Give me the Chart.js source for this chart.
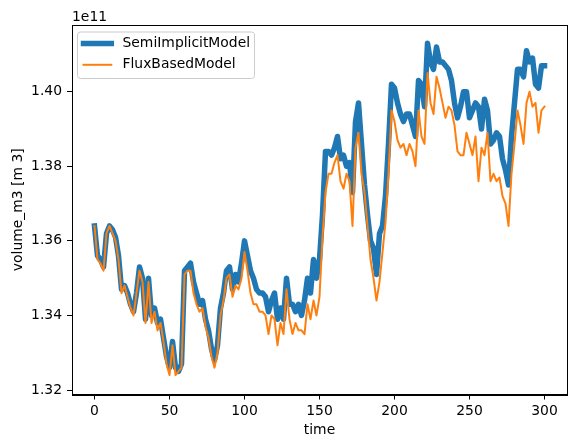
<!DOCTYPE html>
<html>
<head>
<meta charset="utf-8">
<script src="https://cdn.jsdelivr.net/npm/chart.js@4.4.1/dist/chart.umd.min.js"></script>
<style>
  html, body { margin: 0; padding: 0; background: #fff; }
  #wrap { width: 576px; height: 448px; }
</style>
</head>
<body>
<div id="wrap"><canvas id="chart" width="576" height="448"></canvas></div>
<script>
// values in units of 1e11 m^3, read every 2 time steps
const time = [
  0, 2, 4, 6, 8, 10, 12, 14, 16, 18,
  20, 22, 24, 26, 28, 30, 32, 34, 36, 38,
  40, 42, 44, 46, 48, 50, 52, 54, 56, 58,
  60, 62, 64, 66, 68, 70, 72, 74, 76, 78,
  80, 82, 84, 86, 88, 90, 92, 94, 96, 98,
  100, 102, 104, 106, 108, 110, 112, 114, 116, 118,
  120, 122, 124, 126, 128, 130, 132, 134, 136, 138,
  140, 142, 144, 146, 148, 150, 152, 154, 156, 158,
  160, 162, 164, 166, 168, 170, 172, 174, 176, 178,
  180, 182, 184, 186, 188, 190, 192, 194, 196, 198,
  200, 202, 204, 206, 208, 210, 212, 214, 216, 218,
  220, 222, 224, 226, 228, 230, 232, 234, 236, 238,
  240, 242, 244, 246, 248, 250, 252, 254, 256, 258,
  260, 262, 264, 266, 268, 270, 272, 274, 276, 278,
  280, 282, 284, 286, 288, 290, 292, 294, 296, 298,
  300
];

const semiImplicit = [
  1.364, 1.356, 1.355, 1.353, 1.362, 1.364, 1.363, 1.361, 1.356, 1.347,
  1.348, 1.346, 1.343, 1.341, 1.346, 1.353, 1.350, 1.339, 1.350, 1.340,
  1.342, 1.338, 1.339, 1.334, 1.329, 1.326, 1.333, 1.326, 1.325, 1.327,
  1.352, 1.353, 1.354, 1.349, 1.346, 1.343, 1.344, 1.339, 1.336, 1.331,
  1.328, 1.332, 1.342, 1.346, 1.352, 1.353, 1.347, 1.351, 1.349, 1.354,
  1.360, 1.356, 1.352, 1.350, 1.347, 1.346, 1.346, 1.345, 1.341, 1.344,
  1.346, 1.339, 1.342, 1.339, 1.350, 1.343, 1.343, 1.341, 1.343, 1.340,
  1.344, 1.350, 1.346, 1.355, 1.350, 1.355, 1.367, 1.384, 1.384, 1.383,
  1.385, 1.388, 1.382, 1.383, 1.380, 1.381, 1.373, 1.392, 1.397, 1.386,
  1.375, 1.367, 1.360, 1.358, 1.351, 1.362, 1.364, 1.372, 1.386, 1.402,
  1.401, 1.397, 1.394, 1.392, 1.394, 1.394, 1.391, 1.388, 1.403, 1.402,
  1.396, 1.413, 1.408, 1.406, 1.412, 1.408, 1.408, 1.407, 1.406, 1.403,
  1.397, 1.393, 1.396, 1.400, 1.400, 1.393, 1.395, 1.397, 1.396, 1.390,
  1.398, 1.395, 1.386, 1.387, 1.389, 1.388, 1.382, 1.379, 1.375, 1.388,
  1.397, 1.406, 1.406, 1.404, 1.411, 1.408, 1.409, 1.402, 1.401, 1.407,
  1.407
];

const fluxBased = [
  1.364, 1.355, 1.354, 1.352, 1.362, 1.364, 1.362, 1.360, 1.355, 1.346,
  1.348, 1.345, 1.342, 1.340, 1.346, 1.352, 1.349, 1.338, 1.349, 1.338,
  1.341, 1.336, 1.338, 1.333, 1.327, 1.324, 1.332, 1.324, 1.325, 1.326,
  1.351, 1.352, 1.352, 1.346, 1.343, 1.341, 1.342, 1.337, 1.334, 1.329,
  1.326, 1.330, 1.340, 1.344, 1.350, 1.351, 1.345, 1.348, 1.347, 1.350,
  1.357, 1.352, 1.346, 1.343, 1.343, 1.341, 1.341, 1.340, 1.335, 1.340,
  1.339, 1.332, 1.338, 1.335, 1.347, 1.339, 1.335, 1.338, 1.336, 1.336,
  1.335, 1.343, 1.339, 1.344, 1.340, 1.345, 1.361, 1.373, 1.378, 1.378,
  1.381, 1.383, 1.376, 1.374, 1.378, 1.376, 1.364, 1.385, 1.389, 1.378,
  1.373, 1.364, 1.355, 1.350, 1.344, 1.349, 1.357, 1.365, 1.378, 1.395,
  1.392, 1.387, 1.385, 1.386, 1.383, 1.386, 1.384, 1.380, 1.395, 1.388,
  1.386, 1.405, 1.397, 1.394, 1.404, 1.401, 1.397, 1.393, 1.396, 1.395,
  1.391, 1.384, 1.383, 1.383, 1.389, 1.386, 1.383, 1.388, 1.376, 1.385,
  1.383, 1.389, 1.376, 1.378, 1.376, 1.377, 1.372, 1.370, 1.364, 1.378,
  1.386, 1.395, 1.391, 1.386, 1.397, 1.400, 1.396, 1.397, 1.389, 1.395,
  1.396
];

const seriesNames = ['SemiImplicitModel', 'FluxBasedModel'];
const xTicks = [0, 50, 100, 150, 200, 250, 300];
const yTicks = [1.32, 1.34, 1.36, 1.38, 1.40];

const FONT = 'DejaVu Sans';
const FS = 13.9;

Chart.defaults.font.family = FONT;
Chart.defaults.font.size = FS;
Chart.defaults.color = '#000';

const toPoints = ys => ys.map((y, i) => ({x: time[i], y: y}));

// box around the plot, the "1e11" offset text and a matplotlib-like legend
const framePlugin = {
  id: 'frame',
  afterDatasetsDraw(chart) {
    const {ctx, chartArea: a} = chart;
    ctx.save();
    ctx.strokeStyle = '#000';
    ctx.lineWidth = 1;
    const l = Math.round(a.left) + 0.5, t = Math.round(a.top) + 0.5;
    const r = Math.round(a.right) + 0.5, b = Math.round(a.bottom) + 0.5;
    ctx.strokeRect(l, t, r - l, b - t);
    ctx.restore();
  },
  afterDraw(chart) {
    const {ctx, chartArea: a} = chart;
    ctx.save();
    ctx.font = FS + 'px "' + FONT + '"';
    ctx.fillStyle = '#000';
    ctx.textBaseline = 'alphabetic';
    ctx.textAlign = 'left';
    ctx.fillText('1e11', a.left, a.top - 4.5);

    // legend
    const bx = a.left + 5.5, by = a.top + 7, bw = 177, bh = 46.5, rad = 3;
    ctx.beginPath();
    ctx.moveTo(bx + rad, by);
    ctx.arcTo(bx + bw, by, bx + bw, by + bh, rad);
    ctx.arcTo(bx + bw, by + bh, bx, by + bh, rad);
    ctx.arcTo(bx, by + bh, bx, by, rad);
    ctx.arcTo(bx, by, bx + bw, by, rad);
    ctx.closePath();
    ctx.fillStyle = 'rgba(255,255,255,0.8)';
    ctx.fill();
    ctx.strokeStyle = '#cccccc';
    ctx.lineWidth = 1;
    ctx.stroke();

    chart.data.datasets.forEach((ds, i) => {
      const cy = by + 11.5 + i * 21.3;
      ctx.beginPath();
      ctx.strokeStyle = ds.borderColor;
      ctx.lineWidth = ds.borderWidth;
      ctx.lineCap = 'square';
      ctx.moveTo(bx + 6, cy);
      ctx.lineTo(bx + 33.8, cy);
      ctx.stroke();
      ctx.fillStyle = '#000';
      ctx.textBaseline = 'middle';
      ctx.fillText(ds.label, bx + 45, cy);
    });
    ctx.restore();
  }
};

new Chart(document.getElementById('chart'), {
  type: 'line',
  data: {
    datasets: [
      {
        label: seriesNames[0],
        data: toPoints(semiImplicit),
        borderColor: '#1f77b4',
        borderWidth: 5.5,
        borderJoinStyle: 'round',
        borderCapStyle: 'square',
        pointRadius: 0,
        tension: 0,
        order: 1
      },
      {
        label: seriesNames[1],
        data: toPoints(fluxBased),
        borderColor: '#ff7f0e',
        borderWidth: 2,
        borderJoinStyle: 'round',
        borderCapStyle: 'square',
        pointRadius: 0,
        tension: 0,
        order: 0
      }
    ]
  },
  options: {
    responsive: false,
    animation: false,
    events: [],
    layout: {padding: {top: 25, right: 9, left: 0, bottom: 0}},
    plugins: {
      legend: {display: false},
      tooltip: {enabled: false}
    },
    scales: {
      x: {
        type: 'linear',
        min: -15,
        max: 315,
        afterBuildTicks: s => { s.ticks = xTicks.map(v => ({value: v})); },
        afterFit: s => { s.height = 53.5; },
        grid: {drawOnChartArea: false, drawTicks: true, tickLength: 5, color: '#000', lineWidth: 1},
        border: {display: true, color: '#000', width: 1},
        ticks: {color: '#000', padding: 4, maxRotation: 0, autoSkip: false},
        title: {display: true, text: 'time', color: '#000', padding: {top: 0, bottom: 9}}
      },
      y: {
        type: 'linear',
        min: 1.3188,
        max: 1.4179,
        afterBuildTicks: s => { s.ticks = yTicks.map(v => ({value: v})); },
        afterFit: s => { s.width = 72; },
        grid: {drawOnChartArea: false, drawTicks: true, tickLength: 5, color: '#000', lineWidth: 1},
        border: {display: true, color: '#000', width: 1},
        ticks: {color: '#000', padding: 5, callback: v => v.toFixed(2)},
        title: {display: true, text: 'volume_m3 [m 3]', color: '#000', padding: {top: 10, bottom: 0}}
      }
    }
  },
  plugins: [framePlugin]
});
</script>
</body>
</html>
